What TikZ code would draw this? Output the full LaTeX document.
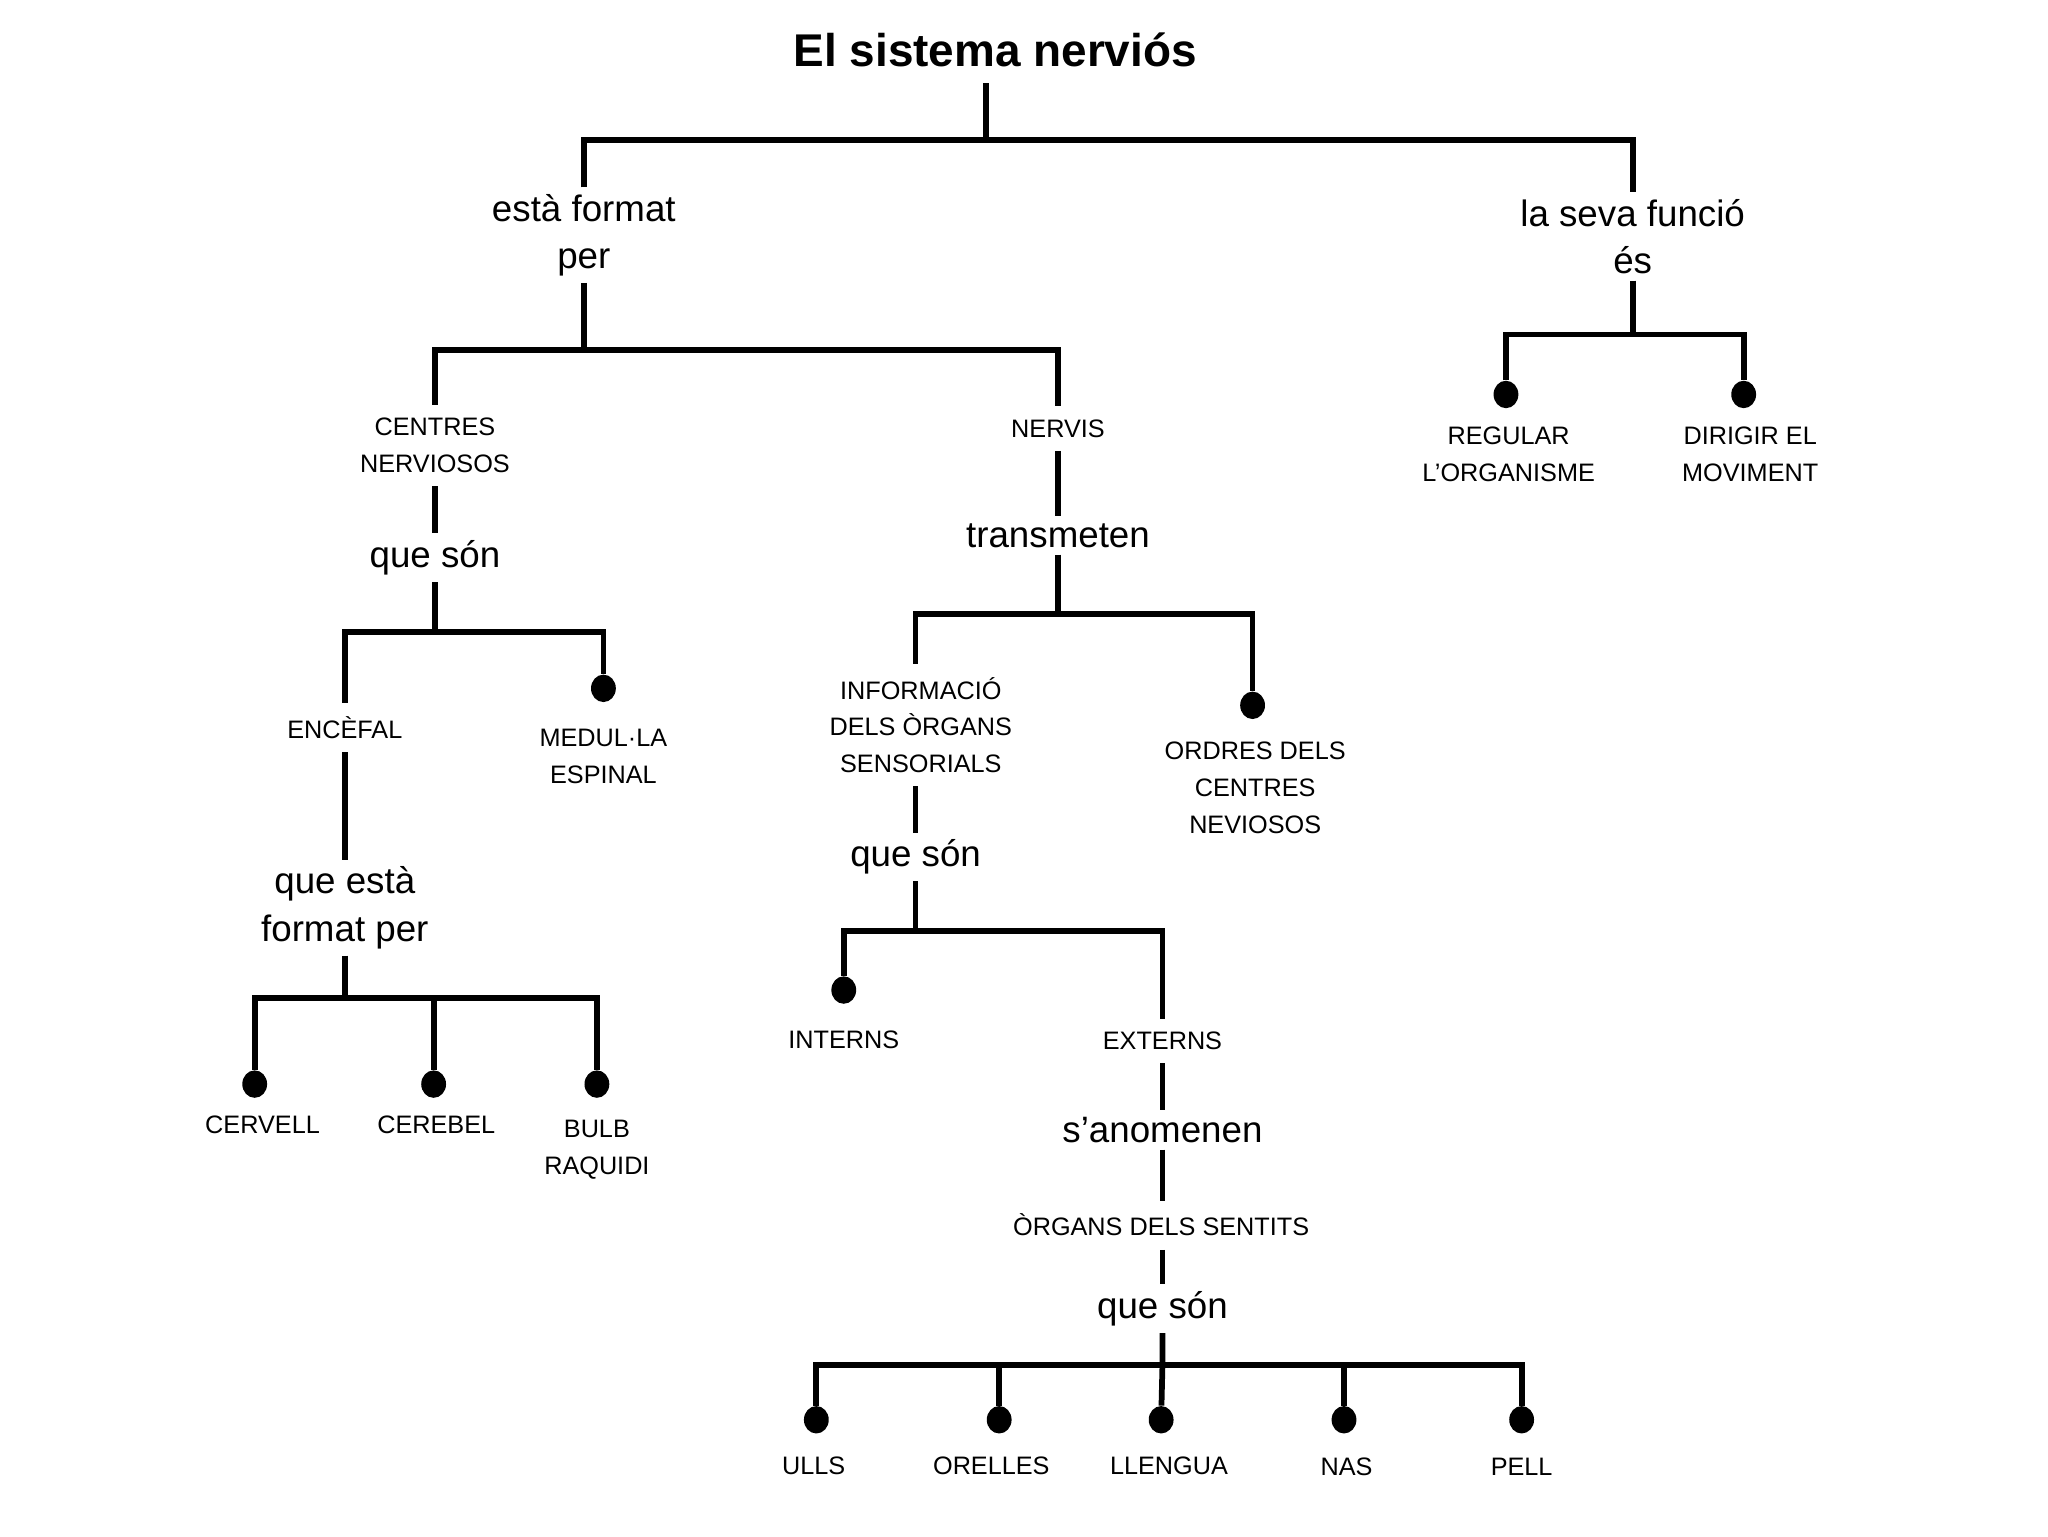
\documentclass[tikz,border=0pt]{standalone}
\usepackage{fontspec}
\setmainfont{Liberation Sans}
\usetikzlibrary{
    shapes.geometric,
    positioning,
    calc
}

\begin{document}
\begin{tikzpicture}[
        x=0.2mm, y=-0.2mm,
        titol/.style={font=\fontsize{20}{24}\selectfont\bfseries, inner sep=2.5mm},
        enllac/.style={font=\fontsize{16}{20.5}\selectfont, align=center, inner sep=1mm},
        concepte/.style={font=\fontsize{11}{16}\selectfont, align=center, inner sep=2mm},
        punt/.style={ellipse, fill=black, inner sep=0pt, minimum width=3.8mm, minimum height=4.2mm},
        rama/.style={line width=2.5pt}
    ]
        \path[fill=white] (0,0) rectangle (1568,1176);

        % Title
        \node[titol] (sistema) at (762, 38) {El sistema nerviós};

        % Junctions
        \coordinate (t1) at (755, 107);
        \coordinate (t2) at (447, 268);
        \coordinate (t3) at (333, 484);
        \coordinate (t4) at (264, 764);
        \coordinate (t5) at (810, 470);
        \coordinate (t6) at (701, 713);
        \coordinate (t7) at (890, 1045);
        \coordinate (t8) at (1250, 256);

        % First level
        \node[enllac] (format) at (447, 180) {està format\\per};
        \node[enllac] (funcio) at (1250, 181) {la seva funció\\és};

        % Centres nerviosos
        \node[concepte] (centres) at (333, 341) {CENTRES\\NERVIOSOS};
        \node[enllac] (son1) at (333, 427) {que són};
        \node[concepte] (encefal) at (264, 557) {ENCÈFAL};
        \node[punt] (dMedulla) at (462, 527) {};
        \node[concepte] (medulla) at (462, 579) {MEDUL·LA\\ESPINAL};
        \node[enllac] (estafp) at (264, 695) {que està\\format per};
        \node[punt] (dCervell) at (195, 830) {};
        \node[punt] (dCerebel) at (332, 830) {};
        \node[punt] (dBulb) at (457, 830) {};
        \node[concepte] (cervell) at (201, 861) {CERVELL};
        \node[concepte] (cerebel) at (334, 861) {CEREBEL};
        \node[concepte] (bulb) at (457, 880) {BULB\\RAQUIDI};

        % Nervis
        \node[concepte] (nervis) at (810, 328) {NERVIS};
        \node[enllac] (transmeten) at (810, 410) {transmeten};
        \node[concepte] (informacio) at (705, 555) {INFORMACIÓ\\DELS ÒRGANS\\SENSORIALS};
        \node[punt] (dOrdres) at (959, 540) {};
        \node[concepte] (ordres) at (961, 603) {ORDRES DELS\\CENTRES\\NEVIOSOS};
        \node[enllac] (son2) at (701, 656) {que són};
        \node[punt] (dInterns) at (646, 758) {};
        \node[concepte] (interns) at (646, 796) {INTERNS};
        \node[concepte] (externs) at (890, 797) {EXTERNS};
        \node[enllac] (anomenen) at (890, 865) {s’anomenen};
        \node[concepte] (organs) at (889, 938) {ÒRGANS DELS SENTITS};
        \node[enllac] (son3) at (890, 1002) {que són};

        % Senses
        \node[punt] (dUlls) at (625, 1087) {};
        \node[punt] (dOrelles) at (765, 1087) {};
        \node[punt] (dLlengua) at (889, 1087) {};
        \node[punt] (dNas) at (1029, 1087) {};
        \node[punt] (dPell) at (1165, 1087) {};
        \node[concepte] (ulls) at (623, 1122) {ULLS};
        \node[concepte] (orelles) at (759, 1122) {ORELLES};
        \node[concepte] (llengua) at (895, 1122) {LLENGUA};
        \node[concepte] (nas) at (1031, 1123) {NAS};
        \node[concepte] (pell) at (1165, 1123) {PELL};

        % Function
        \node[punt] (dRegular) at (1153, 302) {};
        \node[punt] (dDirigir) at (1335, 302) {};
        \node[concepte] (regular) at (1155, 348) {REGULAR\\L’ORGANISME};
        \node[concepte] (dirigir) at (1340, 348) {DIRIGIR EL\\MOVIMENT};

        % Lines
        \draw[rama] (sistema.south -| t1) -- (t1);
        \draw[rama] (format) |- (t1) -| (funcio);
        \draw[rama] (format) -- (t2);
        \draw[rama] (centres) |- (t2) -| (nervis);
        \draw[rama] (centres) -- (son1);
        \draw[rama] (son1) -- (t3);
        \draw[rama] (encefal) |- (t3) -| (dMedulla);
        \draw[rama] (encefal) -- (estafp);
        \draw[rama] (estafp) -- (t4);
        \draw[rama] (dCervell) |- (t4) -| (dBulb);
        \draw[rama] (t4 -| dCerebel) -- (dCerebel);
        \draw[rama] (nervis) -- (transmeten);
        \draw[rama] (transmeten) -- (t5);
        \draw[rama] (informacio.north -| t6) |- (t5) -| (dOrdres);
        \draw[rama] (informacio.south -| t6) -- (son2);
        \draw[rama] (son2) -- (t6);
        \draw[rama] (dInterns) |- (t6) -| (externs);
        \draw[rama] (externs) -- (anomenen);
        \draw[rama] (anomenen) -- (organs.north -| anomenen);
        \draw[rama] (organs.south -| son3) -- (son3);
        \draw[rama] (son3) -- (t7) -- (dLlengua);
        \draw[rama] (dUlls) |- (t7) -| (dPell);
        \draw[rama] (t7 -| dOrelles) -- (dOrelles);
        \draw[rama] (t7 -| dNas) -- (dNas);
        \draw[rama] (funcio) -- (t8);
        \draw[rama] (dRegular) |- (t8) -| (dDirigir);
    \end{tikzpicture}
\end{document}
